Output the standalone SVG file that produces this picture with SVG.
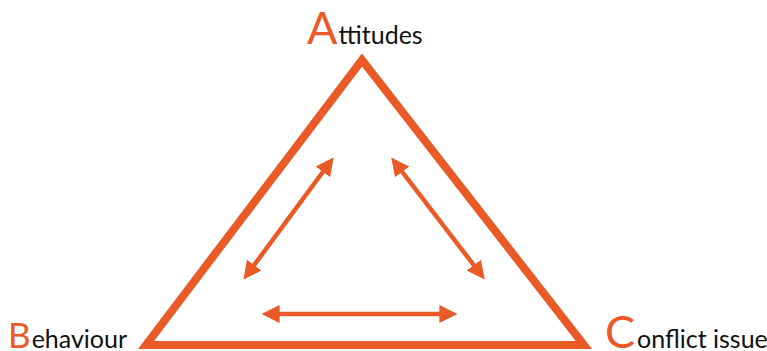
<svg xmlns="http://www.w3.org/2000/svg" width="767" height="351" viewBox="0 0 767 351">
<style>
.big{font-family:Lato,"Open Sans",sans-serif;fill:#E95A27;}
.sm{font-family:Lato,"Open Sans",sans-serif;fill:#111;font-size:25px;}
.arr{stroke:#E95A27;stroke-width:4.5;fill:none;marker-start:url(#h);marker-end:url(#h);}
</style>
<defs>
<marker id="h" viewBox="0 0 10 10" refX="2" refY="5" markerWidth="4" markerHeight="6.2" markerUnits="strokeWidth" orient="auto-start-reverse">
<path d="M0,0 L10,5 L0,10 Z" fill="#E95A27"/>
</marker>
</defs>
<rect width="767" height="351" fill="#fff"/>
<g id="triangle">
<path d="M362,60 L146,345 L584,345 Z" fill="none" stroke="#E95A27" stroke-width="8" stroke-linejoin="miter"/>
</g>
<g id="connectors">
<line class="arr" x1="325" y1="169" x2="252" y2="268"/>
<line class="arr" x1="400" y1="169" x2="476" y2="268"/>
<line class="arr" x1="276" y1="314" x2="443" y2="314"/>
</g>
<g id="attitudes">
<text x="307" y="44"><tspan class="big" font-size="45">A</tspan><tspan class="sm" dx="1">ttitudes</tspan></text>
</g>
<g id="behaviour">
<text x="8" y="348"><tspan class="big" font-size="35">B</tspan><tspan class="sm" dx="1">ehaviour</tspan></text>
</g>
<g id="conflict">
<text x="605" y="348"><tspan class="big" font-size="45">C</tspan><tspan class="sm" dx="2">onflict issue</tspan></text>
</g>
</svg>
